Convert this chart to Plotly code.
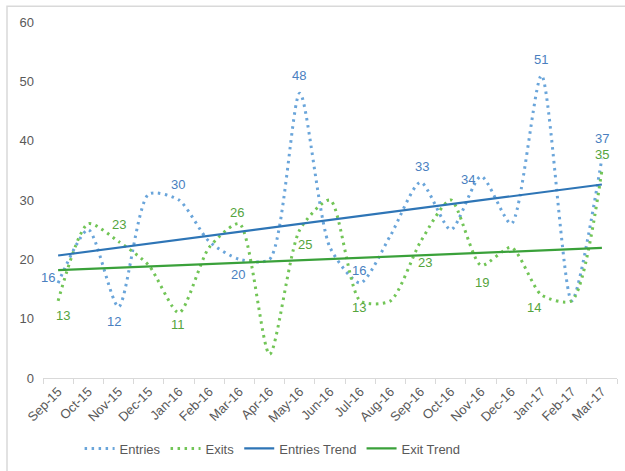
import numpy as np
import plotly.graph_objects as go

# Monthly entries / exits
months = ["Sep-15", "Oct-15", "Nov-15", "Dec-15", "Jan-16", "Feb-16", "Mar-16",
          "Apr-16", "May-16", "Jun-16", "Jul-16", "Aug-16", "Sep-16", "Oct-16",
          "Nov-16", "Dec-16", "Jan-17", "Feb-17", "Mar-17"]
entries = [16, 25, 12, 31, 30, 23, 20, 20, 48, 22, 16, 24, 33, 25, 34, 26, 51, 13, 37]
exits = [13, 26, 23, 19, 11, 22, 26, 4, 25, 30, 13, 13, 23, 30, 19, 22, 14, 13, 35]
y_ticks = [0, 10, 20, 30, 40, 50, 60]

# Linear trend lines fitted to each series
idx = np.arange(len(months))
entries_trend = np.polyval(np.polyfit(idx, entries, 1), idx)
exits_trend = np.polyval(np.polyfit(idx, exits, 1), idx)

C_ENT = "#6aa5da"
C_ENT_TREND = "#2e75b6"
C_ENT_TXT = "#4a7fbf"
C_EXIT = "#72c557"
C_EXIT_TREND = "#3aa13a"
C_EXIT_TXT = "#55a43d"
FONT = "Liberation Sans, Arial, sans-serif"
DOTS = "2.5px,4.5px"

fig = go.Figure()
fig.add_trace(go.Scatter(x=months, y=entries, name="Entries", mode="lines",
                         line=dict(color=C_ENT, width=3, dash=DOTS,
                                   shape="spline", smoothing=0.7)))
fig.add_trace(go.Scatter(x=months, y=exits, name="Exits", mode="lines",
                         line=dict(color=C_EXIT, width=3, dash=DOTS,
                                   shape="spline", smoothing=0.7)))
fig.add_trace(go.Scatter(x=months, y=entries_trend, name="Entries Trend", mode="lines",
                         line=dict(color=C_ENT_TREND, width=2.2)))
fig.add_trace(go.Scatter(x=months, y=exits_trend, name="Exit Trend", mode="lines",
                         line=dict(color=C_EXIT_TREND, width=2.2)))

# Value labels on every other month, with per-label nudges (dx, dy in px, dy down)
entry_label_offsets = {0: (-10, -6), 2: (-5, 15), 4: (-1, -16), 6: (-1, 15), 8: (-1, -18),
                       10: (-1, -13), 12: (1, -16), 14: (-13, 3), 16: (0, -16), 18: (0, -20)}
exit_label_offsets = {0: (5, 15), 2: (0, -17), 4: (-1, 12), 6: (-2, -11), 8: (5, 15),
                      10: (-1, 7), 12: (4, 21), 14: (1, 17), 16: (-7, 13), 18: (0, -16)}

annotations = []
for series, offsets, color in ((entries, entry_label_offsets, C_ENT_TXT),
                               (exits, exit_label_offsets, C_EXIT_TXT)):
    for i, (dx, dy) in offsets.items():
        annotations.append(dict(x=months[i], y=series[i], text=str(series[i]),
                                showarrow=False, xshift=dx, yshift=-dy,
                                font=dict(family=FONT, size=13, color=color)))

fig.update_layout(
    width=625, height=471,
    margin=dict(l=43, r=8, t=22, b=86),
    paper_bgcolor="white", plot_bgcolor="white",
    font=dict(family=FONT, size=13, color="#595959"),
    showlegend=True,
    legend=dict(orientation="h", x=0.4, xanchor="center", y=-0.198, yanchor="middle",
                font=dict(family=FONT, size=13, color="#595959"), traceorder="normal"),
    annotations=annotations,
    shapes=[dict(type="rect", xref="paper", yref="paper",
                 x0=-0.0627, x1=1.05, y0=-0.3, y1=1.044,
                 line=dict(color="#d9d9d9", width=1.5), layer="below")],
)
fig.update_xaxes(type="category", range=[-0.5, len(months) - 0.5],
                 showline=True, linecolor="#d9d9d9", linewidth=1,
                 ticks="outside", tickson="boundaries", ticklen=5, tickcolor="#d9d9d9",
                 tickangle=-45, showgrid=False, zeroline=False,
                 tickfont=dict(family=FONT, size=13, color="#595959"))
fig.update_yaxes(range=[0, 60], tickvals=y_ticks, showgrid=False, zeroline=False,
                 showline=False, ticklabelstandoff=8,
                 tickfont=dict(family=FONT, size=13, color="#595959"))

fig.write_html("out.html")
